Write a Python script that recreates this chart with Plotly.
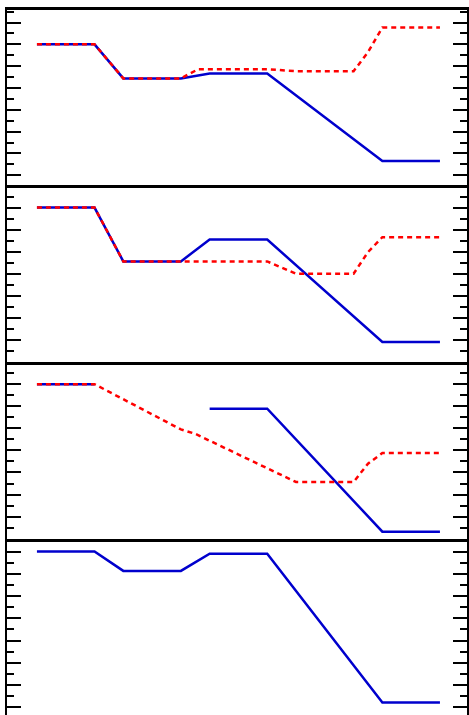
import plotly.graph_objects as go

# x positions shared by all panels
x = [0, 2, 3, 5, 6, 8, 12, 14]

# Panel 1
p1_blue = [6.0, 6.0, 4.44, 4.44, 4.66, 4.66, 0.65, 0.65]
p1_red_x = [0, 2, 3, 5, 5.6, 8, 9, 11, 11.5, 12, 14]
p1_red = [6.0, 6.0, 4.44, 4.44, 4.86, 4.86, 4.77, 4.77, 5.64, 6.77, 6.77]

# Panel 2
p2_blue = [7.0, 7.0, 4.56, 4.56, 5.55, 5.55, 0.91, 0.91]
p2_red_x = [0, 2, 3, 5, 8, 9, 11, 11.5, 12, 14]
p2_red = [7.0, 7.0, 4.56, 4.56, 4.56, 4.0, 4.0, 4.98, 5.66, 5.66]

# Panel 3 (blue has a gap)
p3_blue_x = [0, 2, 3, 6, 8, 12, 14]
p3_blue = [7.0, 7.0, None, 5.89, 5.89, 0.32, 0.32]
p3_red_x = [0, 2, 5, 5.5, 9, 11, 11.5, 12, 14]
p3_red = [7.0, 7.0, 4.95, 4.75, 2.57, 2.57, 3.40, 3.88, 3.88]

# Panel 4
p4_blue = [7.0, 7.0, 6.13, 6.13, 6.9, 6.9, 0.21, 0.21]

BLUE = "#0000cd"
RED = "#ff0000"

fig = go.Figure()

def ax(n):
    return ("x" if n == 1 else f"x{n}"), ("y" if n == 1 else f"y{n}")

def blue(xs, ys, n):
    xa, ya = ax(n)
    fig.add_trace(go.Scatter(x=xs, y=ys, mode="lines", connectgaps=False,
                             line=dict(color=BLUE, width=2.5), xaxis=xa, yaxis=ya))

def red(xs, ys, n):
    xa, ya = ax(n)
    fig.add_trace(go.Scatter(x=xs, y=ys, mode="lines",
                             line=dict(color=RED, width=2.5, dash="5px,4px"),
                             xaxis=xa, yaxis=ya))

blue(x, p1_blue, 1); red(p1_red_x, p1_red, 1)
blue(x, p2_blue, 2); red(p2_red_x, p2_red, 2)
blue(p3_blue_x, p3_blue, 3); red(p3_red_x, p3_red, 3)
blue(x, p4_blue, 4)

domains = [[0.7511, 1.0], [0.5006, 0.7511], [0.2500, 0.5006], [0.0, 0.2500]]
yranges = [[-0.47, 7.575], [0, 8], [0, 8], [-0.347, 7.575]]

layout = dict(width=469, height=715, margin=dict(l=7, r=2, t=10, b=0),
              paper_bgcolor="white", plot_bgcolor="white", showlegend=False)

for i in range(4):
    n = i + 1
    xa, ya = ax(n)
    xk = "xaxis" if n == 1 else f"xaxis{n}"
    yk = "yaxis" if n == 1 else f"yaxis{n}"
    xax = dict(range=[-1.04, 14.94], anchor=ya, domain=[0, 1],
               showline=(n != 4), linecolor="black", linewidth=2.5,
               mirror=(n == 1), side="bottom", ticks="", showticklabels=False,
               showgrid=False, zeroline=False)
    layout[xk] = xax
    layout[yk] = dict(range=yranges[i], domain=domains[i], anchor=xa,
                      showline=True, linecolor="black", linewidth=2, mirror="ticks",
                      ticks="inside", ticklen=14, tickwidth=2, tickcolor="black",
                      tick0=0, dtick=1, showticklabels=False,
                      showgrid=False, zeroline=False,
                      minor=dict(ticks="inside", ticklen=7, tickwidth=2,
                                 tickcolor="black", tick0=0, dtick=0.5, showgrid=False))

fig.update_layout(**layout)
fig.write_html("out.html")
